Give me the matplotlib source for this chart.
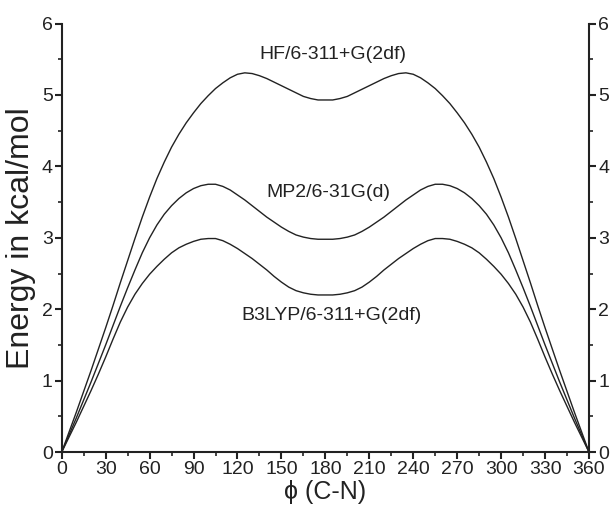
import matplotlib
matplotlib.use('Agg')
import matplotlib.pyplot as plt
from matplotlib.ticker import MultipleLocator

plt.rcParams['font.family'] = ['Liberation Sans', 'DejaVu Sans']

# torsion angle, degrees (5 degree steps)
phi = [0, 5, 10, 15, 20, 25, 30, 35, 40, 45, 50, 55, 60, 65, 70, 75, 80, 85, 90,
       95, 100, 105, 110, 115, 120, 125, 130, 135, 140, 145, 150, 155, 160, 165, 170, 175, 180,
       185, 190, 195, 200, 205, 210, 215, 220, 225, 230, 235, 240, 245, 250, 255, 260, 265, 270,
       275, 280, 285, 290, 295, 300, 305, 310, 315, 320, 325, 330, 335, 340, 345, 350, 355, 360]

# energies (kcal/mol)
hf = [0, 0.28, 0.56, 0.85, 1.14, 1.44, 1.74, 2.05, 2.37, 2.68, 2.99, 3.29, 3.57, 3.83, 4.06, 4.27, 4.45, 4.61, 4.75,
      4.88, 4.99, 5.09, 5.17, 5.24, 5.29, 5.31, 5.30, 5.27, 5.23, 5.18, 5.13, 5.08, 5.03, 4.98, 4.95, 4.93, 4.93,
      4.93, 4.95, 4.98, 5.03, 5.08, 5.13, 5.18, 5.23, 5.27, 5.30, 5.31, 5.29, 5.24, 5.17, 5.09, 4.99, 4.88, 4.75,
      4.61, 4.45, 4.27, 4.06, 3.83, 3.57, 3.29, 2.99, 2.68, 2.37, 2.05, 1.74, 1.44, 1.14, 0.85, 0.56, 0.28, 0]
mp2 = [0, 0.24, 0.48, 0.73, 0.98, 1.24, 1.50, 1.77, 2.04, 2.30, 2.55, 2.79, 3.00, 3.18, 3.33, 3.45, 3.55, 3.63, 3.69,
       3.73, 3.75, 3.75, 3.72, 3.67, 3.60, 3.53, 3.45, 3.37, 3.29, 3.22, 3.15, 3.09, 3.04, 3.01, 2.99, 2.98, 2.98,
       2.98, 2.99, 3.01, 3.04, 3.09, 3.15, 3.22, 3.29, 3.37, 3.45, 3.53, 3.60, 3.67, 3.72, 3.75, 3.75, 3.73, 3.69,
       3.63, 3.55, 3.45, 3.33, 3.18, 3.00, 2.79, 2.55, 2.30, 2.04, 1.77, 1.50, 1.24, 0.98, 0.73, 0.48, 0.24, 0]
b3lyp = [0, 0.21, 0.42, 0.64, 0.86, 1.09, 1.33, 1.58, 1.82, 2.03, 2.21, 2.36, 2.49, 2.60, 2.70, 2.79, 2.86, 2.91, 2.95,
         2.98, 2.99, 2.99, 2.96, 2.91, 2.85, 2.78, 2.71, 2.63, 2.55, 2.46, 2.38, 2.31, 2.26, 2.23, 2.21, 2.20, 2.20,
         2.20, 2.21, 2.23, 2.26, 2.31, 2.38, 2.46, 2.55, 2.63, 2.71, 2.78, 2.85, 2.91, 2.96, 2.99, 2.99, 2.98, 2.95,
         2.91, 2.86, 2.79, 2.70, 2.60, 2.49, 2.36, 2.21, 2.03, 1.82, 1.58, 1.33, 1.09, 0.86, 0.64, 0.42, 0.21, 0]

labels = ['HF/6-311+G(2df)', 'MP2/6-31G(d)', 'B3LYP/6-311+G(2df)']
label_pos = [(185, 5.57), (182, 3.64), (184, 1.91)]

fig = plt.figure(figsize=(6.11, 5.12), dpi=100)
ax = fig.add_axes([0.101, 0.117, 0.863, 0.837])

for e in (hf, mp2, b3lyp):
    ax.plot(phi, e, color='#222222', lw=1.0)

for txt, (x, y) in zip(labels, label_pos):
    ax.text(x, y, txt, ha='center', va='center', fontsize=14, color='#222222')

ax.set_xlim(0, 360)
ax.set_ylim(0, 6)
ax.xaxis.set_major_locator(MultipleLocator(30))
ax.xaxis.set_minor_locator(MultipleLocator(15))
ax.yaxis.set_major_locator(MultipleLocator(1))
ax.yaxis.set_minor_locator(MultipleLocator(0.5))

ax.spines['top'].set_visible(False)
for s in ('left', 'right', 'bottom'):
    ax.spines[s].set_linewidth(1.5)
    ax.spines[s].set_color('#222222')

ax.tick_params(which='both', direction='out', left=True, right=True, labelright=True,
               bottom=True, top=False, colors='#222222', labelsize=14, pad=1.5)
ax.tick_params(which='major', length=5, width=1.5)
ax.tick_params(which='minor', length=3, width=1.2)

ax.set_xlabel('ϕ (C-N)', fontsize=18, color='#222222', labelpad=1)
ax.set_ylabel('Energy in kcal/mol', fontsize=23, color='#222222', labelpad=4)

fig.savefig('out.png', dpi=100)
